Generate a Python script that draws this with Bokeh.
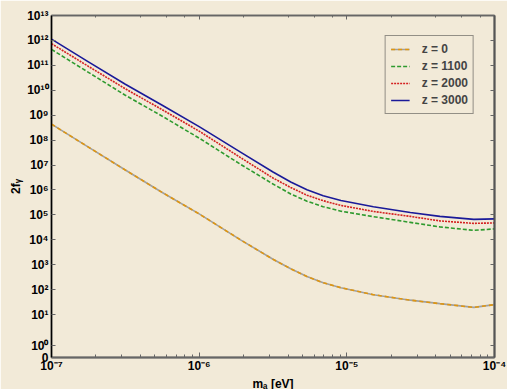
from bokeh.plotting import figure
from bokeh.models import (FixedTicker, LogAxis, LogTicker, CustomJSTickFormatter,
                          Legend, LegendItem, Range1d)
from bokeh.embed import file_html
from bokeh.resources import INLINE

# ---- data ----
log_m = [-7.0, -6.75, -6.5, -6.25, -6.0, -5.72, -5.5, -5.38, -5.27, -5.16,
         -5.04, -4.82, -4.57, -4.37, -4.14, -4.0]
m_a = [10 ** v for v in log_m]

log_z0 = [8.64, 7.72, 6.80, 5.90, 5.04, 4.00, 3.22, 2.84, 2.53, 2.28,
          2.08, 1.80, 1.58, 1.44, 1.29, 1.40]
log_z1100 = [11.64, 10.72, 9.80, 8.96, 8.08, 7.03, 6.24, 5.84, 5.55, 5.33,
             5.15, 4.93, 4.70, 4.52, 4.38, 4.44]
log_z2000 = [11.87, 10.96, 10.06, 9.22, 8.36, 7.30, 6.48, 6.10, 5.79, 5.57,
             5.38, 5.14, 4.94, 4.76, 4.66, 4.68]
log_z3000 = [12.05, 11.14, 10.24, 9.40, 8.54, 7.52, 6.72, 6.32, 6.01, 5.77,
             5.58, 5.33, 5.10, 4.94, 4.82, 4.84]

f_z0 = [10 ** v for v in log_z0]
f_z1100 = [10 ** v for v in log_z1100]
f_z2000 = [10 ** v for v in log_z2000]
f_z3000 = [10 ** v for v in log_z3000]

labels = ["z = 0", "z = 1100", "z = 2000", "z = 3000"]

# y tick positions: "0" and "10^0" sit at pseudo-positions on this broken scale
y_ticks = [10 ** -0.72, 10 ** -0.24] + [10.0 ** k for k in range(1, 14)]

BG = "#F2EAD8"
FONT = "Liberation Sans"

p = figure(frame_width=443, frame_height=342,
           x_axis_type="log", y_axis_type="log",
           x_range=Range1d(1e-7, 1e-4), y_range=Range1d(10 ** -0.72, 1e13),
           output_backend="svg", toolbar_location=None,
           background_fill_color=BG, border_fill_color=BG,
           min_border_left=51, min_border_right=13, min_border_top=15, min_border_bottom=32,
           x_axis_label="mₐ [eV]", y_axis_label="2fᵧ")
p.grid.visible = False
p.outline_line_color = "#555555"
p.outline_line_width = 1.5

sup_js = """
const sup = {'0':'⁰','1':'¹','2':'²','3':'³','4':'⁴','5':'⁵','6':'⁶','7':'⁷','8':'⁸','9':'⁹','-':'⁻'};
function s(n){ return String(n).split('').map(c => sup[c]).join(''); }
"""

yfmt = CustomJSTickFormatter(code=sup_js + """
const e = Math.log10(tick);
if (e < -0.5) return '0';
if (e < 0.5) return '10' + s(0);
return '10' + s(Math.round(e));
""")
xfmt = CustomJSTickFormatter(code=sup_js + """
return '10' + s(Math.round(Math.log10(tick)));
""")

# bottom axis
xa = p.xaxis[0]
xa.formatter = xfmt
xa.axis_line_color = "#666666"
xa.axis_line_width = 2
xa.major_tick_in = 5
xa.major_tick_out = 0
xa.minor_tick_in = 3
xa.minor_tick_out = 0
xa.major_tick_line_color = "#666666"
xa.minor_tick_line_color = "#666666"
xa.major_label_standoff = 1
xa.axis_label_standoff = 1

# left axis
ya = p.yaxis[0]
ya.ticker = FixedTicker(ticks=y_ticks)
ya.formatter = yfmt
ya.axis_line_color = "black"
ya.axis_line_width = 1.5
ya.major_tick_in = 4
ya.major_tick_out = 0
ya.minor_tick_line_color = None
ya.major_tick_line_color = "#666666"
ya.major_label_standoff = 3
ya.axis_label_standoff = 1

for ax in (xa, ya):
    ax.major_label_text_font = FONT
    ax.major_label_text_font_style = "bold"
    ax.major_label_text_font_size = "12px"
    ax.major_label_text_color = "black"
    ax.axis_label_text_font = FONT
    ax.axis_label_text_font_style = "bold"
    ax.axis_label_text_font_size = "12px"
    ax.axis_label_text_color = "black"

# top and right frame axes (ticks only)
top = LogAxis(ticker=LogTicker(), major_label_text_font_size="1px", major_label_text_alpha=0,
              axis_line_color="#666666", axis_line_width=1.5,
              major_tick_in=4, major_tick_out=0, minor_tick_in=2, minor_tick_out=0,
              major_tick_line_color="#666666", minor_tick_line_color="#666666",
              major_label_standoff=0)
right = LogAxis(ticker=FixedTicker(ticks=y_ticks), major_label_text_font_size="1px",
                major_label_text_alpha=0,
                axis_line_color="#555555", axis_line_width=2,
                major_tick_in=4, major_tick_out=0, minor_tick_line_color=None,
                major_tick_line_color="#666666", major_label_standoff=0)
p.add_layout(top, "above")
p.add_layout(right, "right")

# curves
r0a = p.line(m_a, f_z0, line_color="#A0A0A0", line_width=1.6)
r0b = p.line(m_a, f_z0, line_color="#E0960F", line_width=1.6, line_dash="4 3")
r1 = p.line(m_a, f_z1100, line_color="#2E9A2E", line_width=1.6, line_dash="4 2")
r2 = p.line(m_a, f_z2000, line_color="#D42020", line_width=1.6, line_dash="2 1")
r3 = p.line(m_a, f_z3000, line_color="#1A1A99", line_width=1.6)

legend = Legend(items=[LegendItem(label=labels[0], renderers=[r0a, r0b]),
                       LegendItem(label=labels[1], renderers=[r1]),
                       LegendItem(label=labels[2], renderers=[r2]),
                       LegendItem(label=labels[3], renderers=[r3])],
                location="top_right")
legend.margin = 20
legend.padding = 5
legend.spacing = 1
legend.label_text_font = FONT
legend.label_text_font_style = "bold"
legend.label_text_font_size = "12px"
legend.label_standoff = 12
legend.glyph_width = 19
legend.glyph_height = 16
legend.border_line_color = "#333333"
legend.border_line_width = 1.5
legend.background_fill_color = BG
legend.background_fill_alpha = 1.0
p.add_layout(legend, "center")

open("out.html", "w").write(file_html(p, INLINE))
